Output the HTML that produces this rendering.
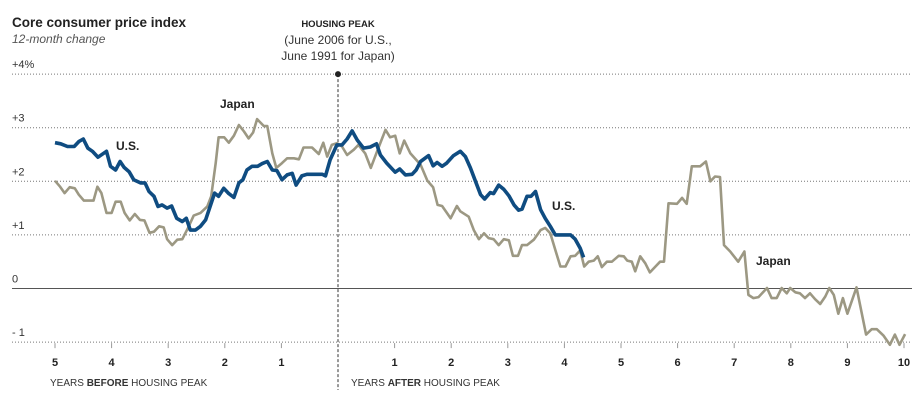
<!DOCTYPE html>
<html><head><meta charset="utf-8"><style>
body{margin:0;background:#fff;}
svg text{font-family:"Liberation Sans",sans-serif;}
</style></head><body>
<svg id="chart" width="922" height="405" viewBox="0 0 922 405" xmlns="http://www.w3.org/2000/svg">
<text x="12" y="27" font-size="13.5" font-weight="bold" fill="#222">Core consumer price index</text>
<text x="12" y="43" font-size="12" font-style="italic" fill="#555">12-month change</text>
<text x="338" y="27" font-size="9.5" font-weight="bold" text-anchor="middle" fill="#222">HOUSING PEAK</text>
<text x="338" y="44" font-size="12" text-anchor="middle" fill="#333">(June 2006 for U.S.,</text>
<text x="338" y="60" font-size="12" text-anchor="middle" fill="#333">June 1991 for Japan)</text>
<g id="grid"></g><g id="series"></g>
<text x="220" y="108" font-size="12" font-weight="bold" fill="#222">Japan</text>
<text x="116" y="150" font-size="12" font-weight="bold" fill="#222">U.S.</text>
<text x="552" y="210" font-size="12" font-weight="bold" fill="#222">U.S.</text>
<text x="756" y="265" font-size="12" font-weight="bold" fill="#222">Japan</text>
<text x="50" y="386" font-size="10" fill="#333">YEARS <tspan font-weight="bold">BEFORE</tspan> HOUSING PEAK</text>
<text x="351" y="386" font-size="10" fill="#333">YEARS <tspan font-weight="bold">AFTER</tspan> HOUSING PEAK</text>
</svg>
<script>
const yTicks=[4,3,2,1,0,-1];
const yTickLabels=["+4%","+3","+2","+1","0","- 1"];
const xTicks=[-5,-4,-3,-2,-1,1,2,3,4,5,6,7,8,9,10];
const xTickLabels=["5","4","3","2","1","1","2","3","4","5","6","7","8","9","10"];
const usYears=[-5,-4.9,-4.78,-4.66,-4.58,-4.5,-4.42,-4.34,-4.24,-4.09,-4.02,-3.93,-3.85,-3.78,-3.69,-3.61,-3.49,-3.41,-3.34,-3.25,-3.18,-3.11,-3.02,-2.94,-2.85,-2.75,-2.68,-2.61,-2.52,-2.43,-2.34,-2.26,-2.18,-2.11,-2.02,-1.93,-1.84,-1.75,-1.68,-1.61,-1.52,-1.42,-1.34,-1.25,-1.16,-1.08,-0.99,-0.9,-0.81,-0.74,-0.64,-0.55,-0.28,-0.22,-0.14,-0.02,0.07,0.16,0.25,0.34,0.45,0.57,0.68,0.75,0.86,1.01,1.09,1.19,1.31,1.38,1.46,1.6,1.68,1.75,1.84,1.92,2.04,2.16,2.25,2.34,2.43,2.52,2.59,2.69,2.75,2.84,2.93,3.02,3.11,3.19,3.25,3.34,3.41,3.49,3.58,3.66,3.75,3.84,4.11,4.19,4.28,4.34];
const usValues=[2.72,2.7,2.65,2.65,2.74,2.79,2.62,2.56,2.45,2.56,2.28,2.21,2.37,2.26,2.18,2.03,1.97,1.97,1.81,1.72,1.53,1.56,1.5,1.54,1.31,1.25,1.31,1.09,1.09,1.16,1.28,1.53,1.78,1.72,1.87,1.77,1.7,1.97,2.03,2.21,2.28,2.28,2.33,2.37,2.21,2.2,2.03,2.12,2.15,1.93,2.1,2.13,2.13,2.1,2.4,2.68,2.68,2.79,2.94,2.77,2.62,2.64,2.7,2.49,2.34,2.17,2.23,2.12,2.13,2.21,2.37,2.48,2.29,2.35,2.28,2.34,2.48,2.56,2.46,2.25,2.0,1.75,1.67,1.79,1.77,1.93,1.85,1.73,1.56,1.46,1.48,1.72,1.72,1.81,1.47,1.31,1.16,1.0,1.0,0.92,0.75,0.58];
const japanYears=[-5,-4.91,-4.83,-4.74,-4.65,-4.58,-4.49,-4.32,-4.25,-4.18,-4.09,-4,-3.93,-3.84,-3.77,-3.68,-3.59,-3.5,-3.42,-3.33,-3.25,-3.16,-3.08,-3.02,-2.93,-2.84,-2.75,-2.65,-2.55,-2.43,-2.31,-2.24,-2.16,-2.11,-2.01,-1.93,-1.84,-1.75,-1.66,-1.58,-1.5,-1.43,-1.31,-1.25,-1.16,-1.09,-0.99,-0.9,-0.78,-0.69,-0.61,-0.46,-0.34,-0.26,-0.19,-0.11,-0.02,0.07,0.16,0.28,0.36,0.48,0.58,0.69,0.84,0.92,1.01,1.09,1.17,1.28,1.46,1.58,1.68,1.76,1.84,1.99,2.1,2.16,2.31,2.4,2.49,2.58,2.66,2.75,2.84,2.93,3.02,3.09,3.18,3.25,3.34,3.46,3.58,3.66,3.75,3.84,3.93,4.02,4.11,4.19,4.28,4.35,4.43,4.52,4.59,4.66,4.75,4.84,4.96,5.05,5.11,5.19,5.25,5.34,5.43,5.51,5.61,5.69,5.76,5.84,5.99,6.08,6.16,6.25,6.4,6.5,6.58,6.66,6.75,6.82,6.93,7.07,7.18,7.25,7.34,7.43,7.58,7.66,7.75,7.84,7.93,7.99,8.08,8.16,8.25,8.34,8.43,8.52,8.61,8.68,8.76,8.84,8.92,9,9.16,9.33,9.43,9.52,9.64,9.75,9.84,9.92,10.02];
const japanValues=[2.01,1.9,1.78,1.89,1.87,1.75,1.64,1.64,1.9,1.78,1.41,1.41,1.62,1.62,1.41,1.27,1.39,1.28,1.27,1.04,1.06,1.16,1.14,0.92,0.81,0.91,0.92,1.13,1.36,1.41,1.53,1.72,2.34,2.82,2.82,2.72,2.85,3.05,2.93,2.8,2.91,3.16,3.03,3.03,2.52,2.25,2.34,2.43,2.43,2.41,2.63,2.63,2.51,2.72,2.46,2.68,2.71,2.65,2.49,2.59,2.68,2.52,2.25,2.56,2.96,2.82,2.85,2.52,2.76,2.52,2.31,2.01,1.89,1.56,1.54,1.31,1.54,1.44,1.34,1.09,0.92,1.03,0.94,0.92,0.81,0.92,0.9,0.61,0.61,0.81,0.81,0.91,1.09,1.13,1.03,0.72,0.41,0.41,0.6,0.61,0.71,0.41,0.5,0.52,0.6,0.4,0.5,0.5,0.61,0.6,0.52,0.5,0.32,0.6,0.47,0.3,0.41,0.5,0.5,1.59,1.58,1.69,1.58,2.28,2.28,2.37,2.0,2.09,2.08,0.81,0.69,0.5,0.69,-0.12,-0.18,-0.16,0.01,-0.18,-0.18,0.01,-0.09,0.01,-0.07,-0.09,-0.18,-0.09,-0.2,-0.29,-0.15,0.01,-0.12,-0.47,-0.18,-0.47,0.02,-0.86,-0.76,-0.76,-0.88,-1.05,-0.86,-1.05,-0.85];

const NS="http://www.w3.org/2000/svg";
const xS=v=>338+v*56.6;
const yS=v=>288.5-v*53.6;
const grid=document.getElementById('grid');
const ser=document.getElementById('series');
function mk(tag,attrs,parent){const e=document.createElementNS(NS,tag);for(const k in attrs)e.setAttribute(k,attrs[k]);parent.appendChild(e);return e;}
yTicks.forEach((t,i)=>{
  const l=mk('line',{x1:12,x2:912,y1:yS(t),y2:yS(t),stroke:t===0?'#555':'#777','stroke-width':t===0?1:1,'stroke-dasharray':t===0?'none':'1,2'},grid);
  
  
  const tx=mk('text',{x:12,y:yS(t)-6,'font-size':11,fill:'#333'},grid);
  tx.textContent=yTickLabels[i];
  
  
});
xTicks.forEach((t,i)=>{
  const l=mk('line',{x1:xS(t),x2:xS(t),y1:yS(-1)+1,y2:yS(-1)+6,stroke:'#999','stroke-width':1},grid);
  
  
  const tx=mk('text',{x:xS(t),y:yS(-1)+24,'font-size':11,'font-weight':'bold','text-anchor':'middle',fill:'#222'},grid);
  tx.textContent=xTickLabels[i];
  
  
});
const pk=mk('line',{x1:xS(0),x2:xS(0),y1:yS(4),y2:390,stroke:'#333','stroke-width':1,'stroke-dasharray':'3,2'},grid);


const dot=mk('circle',{cx:xS(0),cy:yS(4),r:3,fill:'#222'},grid);


function pts(xs,ys){return xs.map((x,i)=>xS(x).toFixed(1)+','+yS(ys[i]).toFixed(1)).join(' ');}
const jp=mk('polyline',{points:pts(japanYears,japanValues),fill:'none',stroke:'#9c9883','stroke-width':2.6,'stroke-linejoin':'round'},ser);


const us=mk('polyline',{points:pts(usYears,usValues),fill:'none',stroke:'#0f4c81','stroke-width':3.6,'stroke-linejoin':'round'},ser);


</script>
</body></html>
